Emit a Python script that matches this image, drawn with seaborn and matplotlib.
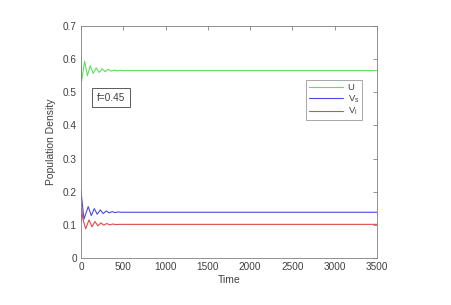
import numpy as np
import pandas as pd
import matplotlib
matplotlib.use("Agg")
import matplotlib.pyplot as plt
import seaborn as sns

# values (damped start, then flat)
t_u = [0, 8, 43, 75, 110, 145, 180, 215, 250, 285, 320, 355, 390, 425, 460, 500, 3500]
u = [0.61, 0.535, 0.594, 0.55, 0.58, 0.557, 0.574, 0.560, 0.571, 0.562, 0.569,
     0.564, 0.567, 0.5648, 0.566, 0.5655, 0.5655]

t_vs = [0, 5, 35, 85, 122, 157, 192, 228, 263, 298, 333, 368, 403, 438, 473, 3500]
vs = [0.205, 0.19, 0.117, 0.155, 0.128, 0.149, 0.132, 0.145, 0.134, 0.142, 0.136,
      0.140, 0.137, 0.139, 0.138, 0.138]

t_vi = [0, 8, 20, 55, 95, 130, 165, 200, 235, 270, 305, 340, 375, 410, 450, 3500]
vi = [0.11, 0.15, 0.12, 0.088, 0.115, 0.094, 0.110, 0.097, 0.106, 0.099, 0.104,
      0.100, 0.1025, 0.101, 0.1015, 0.1015]

labels = ["U", r"$\mathregular{V_s}$", r"$\mathregular{V_i}$"]
colors = ["#5ee05e", "#4a4ae8", "#e04a4a"]

df = pd.concat([
    pd.DataFrame({"t": t_u, "val": u, "series": labels[0]}),
    pd.DataFrame({"t": t_vs, "val": vs, "series": labels[1]}),
    pd.DataFrame({"t": t_vi, "val": vi, "series": labels[2]}),
])

sns.set_style("white")
plt.rcParams["font.family"] = ["Liberation Sans", "DejaVu Sans"]
plt.rcParams["mathtext.fontset"] = "custom"
plt.rcParams["mathtext.rm"] = "Liberation Sans"

txt = "#404040"
fig = plt.figure(figsize=(4.51, 3.05), dpi=100)
ax = fig.add_axes([81 / 451, 1 - 258 / 305, 296 / 451, 232 / 305])

sns.lineplot(data=df, x="t", y="val", hue="series", palette=colors,
             linewidth=0.8, ax=ax, sort=False, estimator=None)

ax.set_xlim(0, 3500)
ax.set_ylim(0, 0.7)
ax.set_xticks(np.arange(0, 3501, 500))
ax.set_yticks(np.arange(0, 0.71, 0.1))
ax.set_yticklabels(["0", "0.1", "0.2", "0.3", "0.4", "0.5", "0.6", "0.7"])
ax.set_xlabel("Time", fontsize=7.5, color=txt, labelpad=2)
ax.set_ylabel("Population Density", fontsize=7.5, color=txt, labelpad=5)
ax.tick_params(direction="in", length=3, width=0.6, labelsize=7.2,
               labelcolor=txt, color="#808080", top=True, right=True, pad=3)
for sp in ax.spines.values():
    sp.set_color("#808080")
    sp.set_linewidth(0.6)
    sp.set_visible(True)

leg = ax.legend(loc="upper right", bbox_to_anchor=(0.965, 0.786), fontsize=6.8,
                frameon=True, fancybox=False, edgecolor="#808080",
                handlelength=3.6, borderpad=0.3, labelspacing=0.12,
                handletextpad=0.5)
leg.get_frame().set_linewidth(0.6)
for t in leg.get_texts():
    t.set_color(txt)

ax.text(0.101, 0.69, "f=0.45", transform=ax.transAxes, fontsize=7.2,
        ha="center", va="center", color=txt,
        bbox=dict(boxstyle="square,pad=0.45", fc="white", ec="#404040", lw=0.6))

fig.savefig("out.png", dpi=100)
